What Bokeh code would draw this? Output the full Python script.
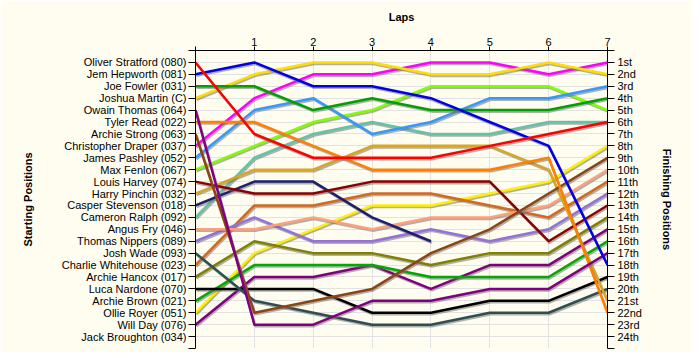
from bokeh.plotting import figure
from bokeh.models import LinearAxis, FixedTicker, Range1d
from bokeh.embed import file_html
from bokeh.resources import INLINE

# ---- data ----
laps = [0, 1, 2, 3, 4, 5, 6, 7]
drivers = ["Oliver Stratford (080)", "Jem Hepworth (081)", "Joe Fowler (031)", "Joshua Martin (C)",
           "Owain Thomas (064)", "Tyler Read (022)", "Archie Strong (063)", "Christopher Draper (037)",
           "James Pashley (052)", "Max Fenlon (067)", "Louis Harvey (074)", "Harry Pinchin (032)",
           "Casper Stevenson (018)", "Cameron Ralph (092)", "Angus Fry (046)", "Thomas Nippers (089)",
           "Josh Wade (093)", "Charlie Whitehouse (023)", "Archie Hancox (017)", "Luca Nardone (070)",
           "Archie Brown (021)", "Ollie Royer (051)", "Will Day (076)", "Jack Broughton (034)"]
finish_labels = ["1st", "2nd", "3rd", "4th", "5th", "6th", "7th", "8th", "9th", "10th", "11th", "12th",
                 "13th", "14th", "15th", "16th", "17th", "18th", "19th", "20th", "21st", "22nd", "23rd", "24th"]

pos_stratford = [1, 7, 9, 9, 9, 8, 7, 6]
pos_hepworth = [2, 1, 3, 3, 4, 6, 8, 18]
pos_fowler = [3, 3, 5, 4, 5, 5, 5, 4]
pos_martin = [4, 2, 1, 1, 2, 2, 1, 2]
pos_thomas = [5, 23, 23, 21, 21, 20, 20, 17]
pos_read = [6, 6, 8, 10, 10, 10, 9, 22]
pos_strong = [7, 22, 21, 20, 17, 15, 12, 9]
pos_draper = [8, 4, 2, 2, 1, 1, 2, 1]
pos_pashley = [9, 5, 4, 7, 6, 4, 4, 3]
pos_fenlon = [10, 8, 6, 5, 3, 3, 3, 5]
pos_harvey = [11, 12, 12, 11, 11, 11, 16, 13]
pos_pinchin = [12, 10, 10, 8, 8, 8, 10, 21]
pos_stevenson = [13, 11, 11, 14, 16]
pos_ralph = [14, 9, 7, 6, 7, 7, 6, 6]
pos_fry = [15, 15, 14, 15, 14, 14, 13, 10]
pos_nippers = [16, 14, 16, 16, 15, 16, 15, 12]
pos_wade = [17, 21, 22, 23, 23, 22, 22, 20]
pos_whitehouse = [18, 13, 13, 12, 12, 13, 14, 11]
pos_hancox = [19, 16, 17, 17, 18, 17, 17, 14]
pos_nardone = [20, 20, 20, 22, 22, 21, 21, 19]
pos_brown = [21, 18, 18, 18, 19, 19, 19, 16]
pos_royer = [22, 17, 15, 13, 13, 12, 11, 8]
pos_day = [23, 19, 19, 18, 20, 18, 18, 15]
pos_broughton = []

series = [pos_stratford, pos_hepworth, pos_fowler, pos_martin, pos_thomas, pos_read, pos_strong,
          pos_draper, pos_pashley, pos_fenlon, pos_harvey, pos_pinchin, pos_stevenson, pos_ralph,
          pos_fry, pos_nippers, pos_wade, pos_whitehouse, pos_hancox, pos_nardone, pos_brown,
          pos_royer, pos_day, pos_broughton]
colors = ["#FF0000", "#0000E6", "#00A000", "#FFDD00", "#800080", "#FF8000", "#8B4513", "#FF00FF",
          "#3399FF", "#80FF00", "#8B0000", "#DAA520", "#1E1E70", "#66C2A5", "#FFA07A", "#9370DB",
          "#2F4F4F", "#D2691E", "#808000", "#000000", "#00AA00", "#FFF000", "#800080", "#000000"]

BG = "#FFFDF0"
FONT = "Liberation Sans"

p = figure(width=692, height=352, x_range=Range1d(0, 7), y_range=Range1d(25, 0),
           output_backend="svg", toolbar_location=None, x_axis_location="above",
           min_border_left=195, min_border_top=50, min_border_right=85, min_border_bottom=4)
p.background_fill_color = BG
p.border_fill_color = BG
p.outline_line_color = None

yticks = list(range(0, 26))

# grid
p.xgrid.ticker = FixedTicker(ticks=laps)
p.ygrid.ticker = FixedTicker(ticks=yticks)
for g in (p.xgrid[0], p.ygrid[0]):
    g.grid_line_color = "#E2E2E2"
    g.grid_line_width = 1

# top axis
xa = p.xaxis[0]
xa.ticker = FixedTicker(ticks=laps)
xa.major_label_overrides = {0: ""}
xa.axis_label = "Laps"

# left axis
ya = p.yaxis[0]
ya.ticker = FixedTicker(ticks=yticks)
ya.major_label_overrides = {i + 1: d for i, d in enumerate(drivers)} | {0: "", 25: ""}
ya.axis_label = "Starting Positions"

# right axis
ra = LinearAxis()
ra.ticker = FixedTicker(ticks=yticks)
ra.major_label_overrides = {i + 1: d for i, d in enumerate(finish_labels)} | {0: "", 25: ""}
ra.axis_label = "Finishing Positions"
p.add_layout(ra, "right")

for ax in (xa, ya, ra):
    ax.axis_line_color = "black"
    ax.major_tick_line_color = "black"
    ax.minor_tick_line_color = None
    ax.major_tick_in = 0
    ax.major_label_text_font = FONT
    ax.major_label_text_font_size = "11px"
    ax.major_label_text_color = "black"
    ax.axis_label_text_font = FONT
    ax.axis_label_text_font_size = "11px"
    ax.axis_label_text_font_style = "bold"
    ax.axis_label_text_color = "black"

xa.major_tick_out = 4
xa.major_label_standoff = 1
xa.axis_label_standoff = 12
ya.major_tick_out = 7
ya.major_label_standoff = 2
ya.axis_label_standoff = 25
ra.major_tick_out = 7
ra.major_label_standoff = 3
ra.axis_label_standoff = 16

# shadow offset (data units, roughly 1px right and 1.5px down)
dx, dy = 0.017, 0.13

for i in reversed(range(len(series))):
    ys = series[i]
    if not ys:
        continue
    xs = laps[:len(ys)]
    p.line([x + dx for x in xs], [y + dy for y in ys], line_color="#707070", line_alpha=0.55,
           line_width=2.5, line_join="round")
    p.line(xs, ys, line_color=colors[i], line_width=2.5, line_join="round")

open("out.html", "w").write(file_html(p, INLINE))
